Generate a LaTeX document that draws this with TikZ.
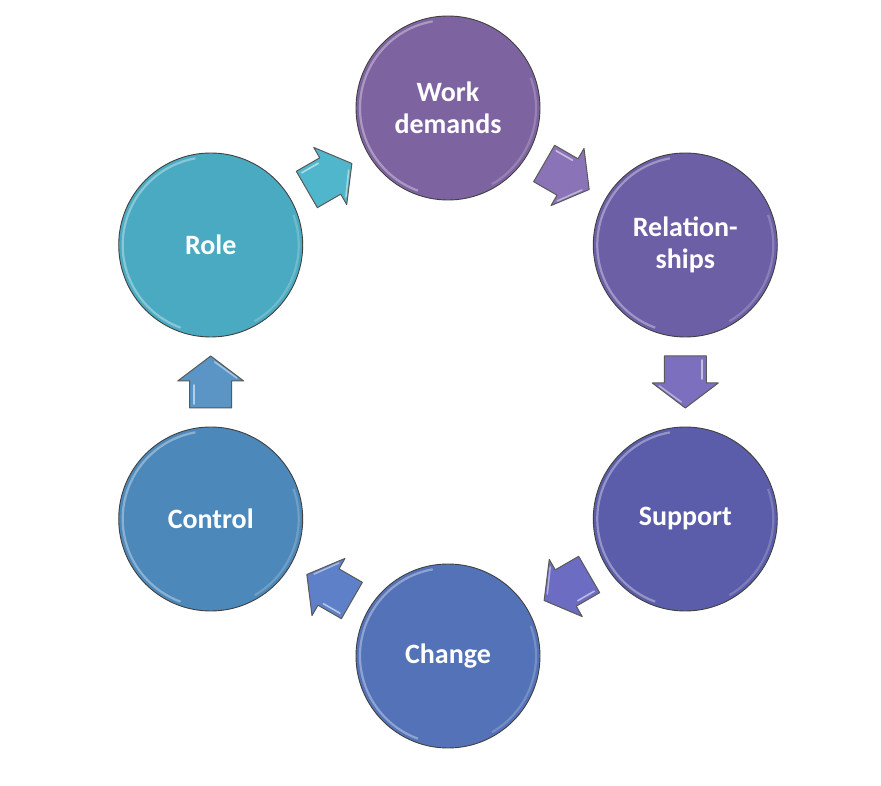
\documentclass[tikz,border=0pt]{standalone}
\usepackage{fontspec}
\setmainfont{Carlito}
\usetikzlibrary{calc}
\definecolor{cWork}{HTML}{7E63A1}
\definecolor{cRel}{HTML}{6D5FA6}
\definecolor{cSup}{HTML}{5B5DAA}
\definecolor{cCha}{HTML}{5372B8}
\definecolor{cCon}{HTML}{4C88B9}
\definecolor{cRole}{HTML}{4AAAC2}
\definecolor{aWork}{HTML}{8B73B8}
\definecolor{aRel}{HTML}{7B6FBE}
\definecolor{aSup}{HTML}{6B6CC2}
\definecolor{aCha}{HTML}{5E80C8}
\definecolor{aCon}{HTML}{5A95C6}
\definecolor{aRole}{HTML}{4FB6CC}
\tikzset{
  x=1pt, y=1pt,
  ball/.style={circle, minimum size=184pt, inner sep=0pt, fill=#1,
    draw=black!75, line width=0.9pt, text=white, align=center,
    font=\bfseries\fontsize{28}{32}\selectfont},
  gloss/.style={white, opacity=0.35, line width=2.2pt},
  blockarrow/.style={fill=#1, draw=black!65, line width=1pt, line join=round},
}
\newcommand{\blockarr}[3]{%
  \begin{scope}[shift={(#1)}, rotate=#2]
    \draw[blockarrow=#3] (-26,-21) -- (1,-21) -- (1,-33) -- (26,0) -- (1,33) -- (1,21) -- (-26,21) -- cycle;
    \draw[white, opacity=0.55, line width=1.6pt, line cap=round] (-22,17) -- (-3,17);
    \draw[white, opacity=0.45, line width=1.6pt, line cap=round] (4,-26) -- (20,-4);
  \end{scope}}
\begin{document}
\begin{tikzpicture}
\useasboundingbox (0,0) rectangle (881,785);
\coordinate (hc) at (448,403);
\node[ball=cWork] (work) at ($(hc)+(90:274)$) {Work\\demands};
\node[ball=cRel]  (rel)  at ($(hc)+(30:274)$) {Relation-\\ships};
\node[ball=cSup]  (sup)  at ($(hc)+(-30:274)$) {Support};
\node[ball=cCha]  (cha)  at ($(hc)+(-90:274)$) {Change};
\node[ball=cCon]  (con)  at ($(hc)+(-150:274)$) {Control};
\node[ball=cRole] (role) at ($(hc)+(150:274)$) {Role};
\foreach \n in {work,rel,sup,cha,con,role}{
  \draw[gloss] (\n.center) ++(100:88) arc (100:250:88);
  \draw[gloss, opacity=0.2] (\n.center) ++(-60:88) arc (-60:20:88);
}
\blockarr{$(role)!0.5!(work)$}{30}{aRole}
\blockarr{$(work)!0.5!(rel)$}{-30}{aWork}
\blockarr{$(rel)!0.5!(sup)$}{-90}{aRel}
\blockarr{$(sup)!0.5!(cha)$}{-150}{aSup}
\blockarr{$(cha)!0.5!(con)$}{150}{aCha}
\blockarr{$(con)!0.5!(role)$}{90}{aCon}
\end{tikzpicture}
\end{document}
